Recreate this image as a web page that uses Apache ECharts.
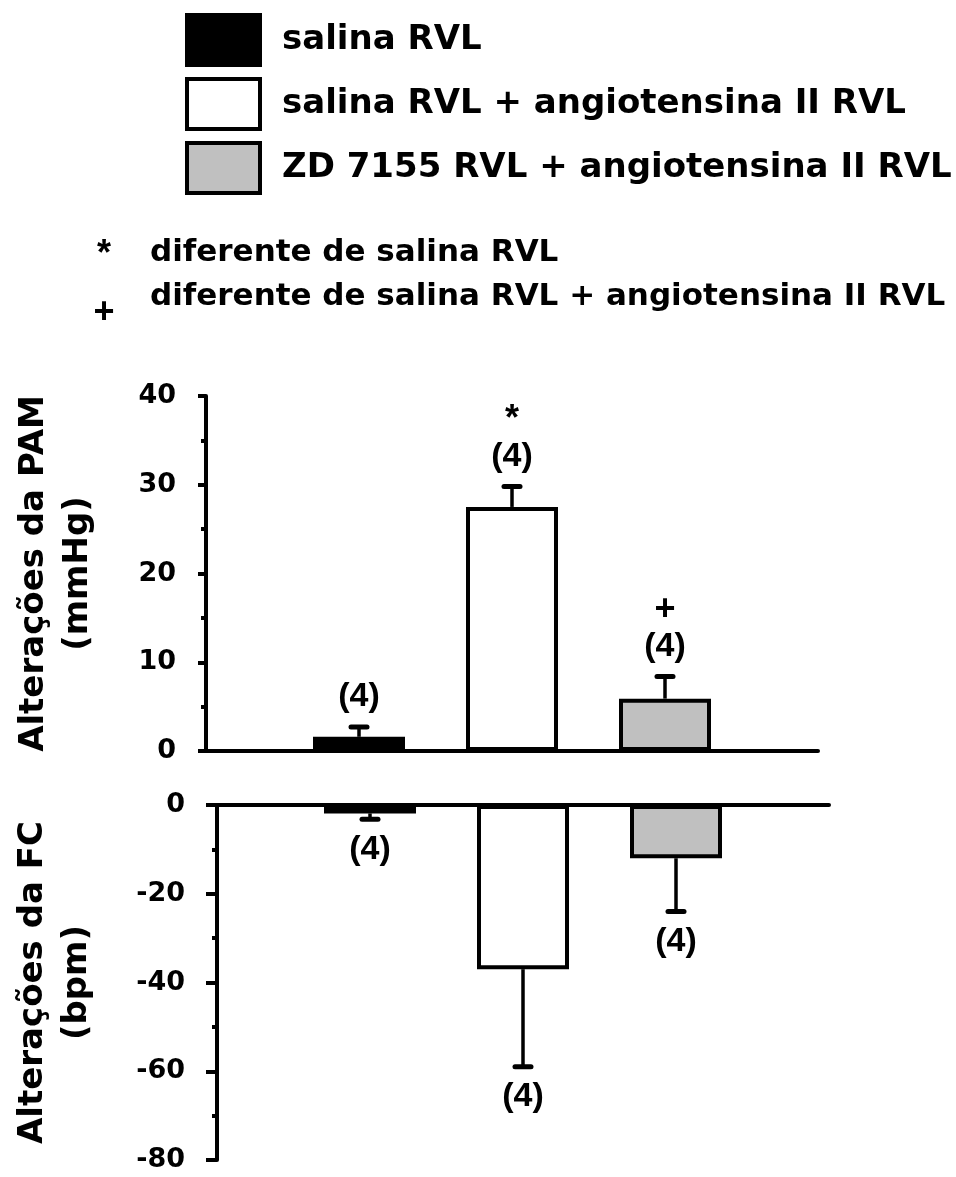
<!DOCTYPE html>
<html>
<head>
<meta charset="utf-8">
<style>
  html, body { margin: 0; padding: 0; background: #fff; }
  #chart { width: 956px; height: 1177px; }
</style>
<script src="https://cdn.jsdelivr.net/npm/echarts@6/dist/echarts.min.js"></script>
</head>
<body>
<div id="chart"></div>
<script>
// grupos e valores
const groups = ['salina RVL', 'salina RVL + angiotensina II RVL', 'ZD 7155 RVL + angiotensina II RVL']
const groupColors = ['#000000', '#ffffff', '#c0c0c0']
const categories = ['', 'salina', 'salina + ang II', 'ZD 7155 + ang II', '']
const pamMean = [1.6, 27.5, 5.9]
const pamErr = [1.1, 2.3, 2.5]
const fcMean = [-1.9, -37, -12]
const fcErr = [1.3, 22, 12]
const nLabels = ['(4)', '(4)', '(4)']
const pamSig = ['', '*', '+']
const fcSig = ['', '', '']
const pamTicks = [0, 40, 10]
const fcTicks = [-80, 0, 20]
const footnotes = [['*', 'diferente de salina RVL'], ['+', 'diferente de salina RVL + angiotensina II RVL']]

const FONT = 'DejaVu Sans'
const NFONT = 'Liberation Sans'

function barSeries (gridIdx, means) {
  return groups.map((name, i) => {
    const data = categories.map(() => '-')
    data[i + 1] = means[i]
    return {
      name: name,
      type: 'bar',
      xAxisIndex: gridIdx,
      yAxisIndex: gridIdx,
      data: data,
      barWidth: 92,
      barGap: '-100%',
      itemStyle: { color: groupColors[i], borderColor: '#000', borderWidth: 4 },
      z: 2
    }
  })
}

function errSeries (gridIdx, means, errs, sig) {
  return {
    type: 'custom',
    xAxisIndex: gridIdx,
    yAxisIndex: gridIdx,
    data: means.map((m, i) => [i + 1, m, errs[i]]),
    z: 3,
    renderItem: function (params, api) {
      const x = api.value(0)
      const m = api.value(1)
      const e = api.value(2)
      const dir = m < 0 ? -1 : 1
      const p0 = api.coord([x, m])
      const p1 = api.coord([x, m + dir * e])
      const i = params.dataIndex
      const children = [
        { type: 'line', shape: { x1: p0[0], y1: p0[1], x2: p1[0], y2: p1[1] }, style: { stroke: '#000', lineWidth: 3.5 } },
        { type: 'line', shape: { x1: p1[0] - 8, y1: p1[1], x2: p1[0] + 8, y2: p1[1] }, style: { stroke: '#000', lineWidth: 5, lineCap: 'round' } },
        { type: 'text', x: p1[0], y: p1[1] - dir * 30, style: { text: nLabels[i], font: 'bold 34px ' + NFONT, fill: '#000', align: 'center', verticalAlign: 'middle' } }
      ]
      if (sig[i]) {
        children.push({ type: 'text', x: p1[0], y: p1[1] - dir * 66, style: { text: sig[i], font: 'bold 36px ' + NFONT, fill: '#000', align: 'center', verticalAlign: 'middle' } })
      }
      return { type: 'group', children: children }
    }
  }
}

function yAxis (gridIdx, ticks, name, gap, tickLen, labelMargin) {
  return {
    type: 'value',
    gridIndex: gridIdx,
    min: ticks[0],
    max: ticks[1],
    interval: ticks[2],
    name: name,
    nameLocation: 'middle',
    nameRotate: 90,
    nameGap: gap,
    nameTextStyle: { fontFamily: FONT, fontWeight: 'bold', fontSize: 34, lineHeight: 44, color: '#000', align: 'center' },
    axisLine: { show: true, lineStyle: { color: '#000', width: 4 } },
    axisTick: { show: true, length: tickLen, lineStyle: { color: '#000', width: 4 } },
    minorTick: { show: true, splitNumber: 2, length: 5, lineStyle: { color: '#000', width: 4 } },
    splitLine: { show: false },
    axisLabel: { fontFamily: FONT, fontWeight: 'bold', fontSize: 27, color: '#000', margin: labelMargin }
  }
}

function xAxis (gridIdx) {
  return {
    type: 'category',
    gridIndex: gridIdx,
    data: categories,
    boundaryGap: false,
    axisLine: { show: true, onZero: true, lineStyle: { color: '#000', width: 4 } },
    axisTick: { show: false },
    axisLabel: { show: false },
    splitLine: { show: false }
  }
}

const chart = echarts.init(document.getElementById('chart'), null, { renderer: 'canvas' })

const option = {
  backgroundColor: '#fff',
  animation: false,
  legend: {
    data: groups,
    orient: 'vertical',
    left: 185,
    top: 13,
    padding: 0,
    icon: 'rect',
    itemWidth: 73,
    itemHeight: 50,
    itemGap: 10,
    itemStyle: { borderColor: '#000', borderWidth: 4 },
    textStyle: { fontFamily: FONT, fontWeight: 'bold', fontSize: 34, color: '#000', padding: [0, 0, 0, 17] },
    selectedMode: false
  },
  grid: [
    { left: 206, top: 396, width: 612, height: 355 },
    { left: 217, top: 805, width: 612, height: 355 }
  ],
  xAxis: [xAxis(0), xAxis(1)],
  yAxis: [
    yAxis(0, pamTicks, 'Alterações da PAM\n(mmHg)', 106, 8, 30),
    yAxis(1, fcTicks, 'Alterações da FC\n(bpm)', 118, 11, 32)
  ],
  graphic: footnotes.map((f, i) => ({
    type: 'group',
    children: [
      { type: 'text', x: 104, y: i === 0 ? 255 : 313, style: { text: f[0], font: 'bold 36px ' + NFONT, fill: '#000', align: 'center', verticalAlign: 'middle' } },
      { type: 'text', x: 150, y: i === 0 ? 253 : 297, style: { text: f[1], font: 'bold 31px ' + FONT, fill: '#000', align: 'left', verticalAlign: 'middle' } }
    ]
  })),
  series: [].concat(
    barSeries(0, pamMean),
    barSeries(1, fcMean),
    [errSeries(0, pamMean, pamErr, pamSig), errSeries(1, fcMean, fcErr, fcSig)]
  )
}

chart.setOption(option)
</script>
</body>
</html>
